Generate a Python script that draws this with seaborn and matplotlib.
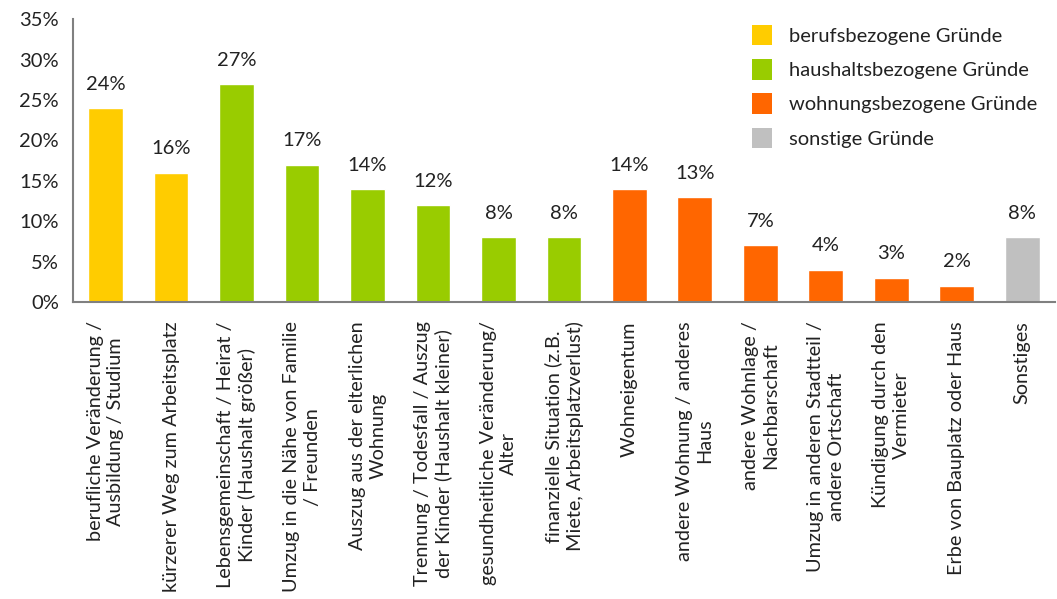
import matplotlib
matplotlib.use("Agg")
import matplotlib.pyplot as plt
import seaborn as sns
import pandas as pd
from matplotlib.patches import Patch
from matplotlib.ticker import FixedLocator

categories = [
    "berufliche Veränderung /\nAusbildung / Studium",
    "kürzerer Weg zum Arbeitsplatz",
    "Lebensgemeinschaft / Heirat /\nKinder (Haushalt größer)",
    "Umzug in die Nähe von Familie\n/ Freunden",
    "Auszug aus der elterlichen\nWohnung",
    "Trennung / Todesfall / Auszug\nder Kinder (Haushalt kleiner)",
    "gesundheitliche Veränderung/\nAlter",
    "finanzielle Situation (z.B.\nMiete, Arbeitsplatzverlust)",
    "Wohneigentum",
    "andere Wohnung / anderes\nHaus",
    "andere Wohnlage /\nNachbarschaft",
    "Umzug in anderen Stadtteil /\nandere Ortschaft",
    "Kündigung durch den\nVermieter",
    "Erbe von Bauplatz oder Haus",
    "Sonstiges",
]
values = [24, 16, 27, 17, 14, 12, 8, 8, 14, 13, 7, 4, 3, 2, 8]
groups = [
    "berufsbezogene Gründe", "berufsbezogene Gründe",
    "haushaltsbezogene Gründe", "haushaltsbezogene Gründe",
    "haushaltsbezogene Gründe", "haushaltsbezogene Gründe",
    "haushaltsbezogene Gründe", "haushaltsbezogene Gründe",
    "wohnungsbezogene Gründe", "wohnungsbezogene Gründe",
    "wohnungsbezogene Gründe", "wohnungsbezogene Gründe",
    "wohnungsbezogene Gründe", "wohnungsbezogene Gründe",
    "sonstige Gründe",
]
group_names = ["berufsbezogene Gründe", "haushaltsbezogene Gründe",
               "wohnungsbezogene Gründe", "sonstige Gründe"]
group_colors = ["#FFCC00", "#99CC00", "#FF6600", "#C0C0C0"]
y_ticks = [0, 5, 10, 15, 20, 25, 30, 35]

sns.set_style("white")
plt.rcParams["font.family"] = ["Lato", "DejaVu Sans"]

df = pd.DataFrame({"kategorie": categories, "anteil": values, "gruppe": groups})
palette = dict(zip(group_names, group_colors))

fig = plt.figure(figsize=(10.57, 5.99), dpi=100)
ax = fig.add_axes([0.069, 0.496, 0.929, 0.472])

sns.barplot(data=df, x="kategorie", y="anteil", hue="gruppe",
            hue_order=group_names, palette=palette, dodge=False,
            width=0.53, saturation=1, legend=False, ax=ax)

ax.set_xlim(-0.5, len(categories) - 0.5)
ax.set_ylim(0, 35)
ax.set_yticks(y_ticks)
ax.set_yticklabels([f"{t}%" for t in y_ticks], fontsize=14.5, color="#222222")
ax.set_xticks(range(len(categories)))
ax.set_xticklabels(categories, rotation=90, ha="center", va="top",
                   multialignment="center", fontsize=14.3, color="#222222",
                   linespacing=1.25)
ax.tick_params(axis="x", which="major", length=0, pad=14)
ax.xaxis.set_minor_locator(FixedLocator([i - 0.5 for i in range(len(categories) + 1)]))
ax.tick_params(axis="x", which="minor", length=6, width=1.5, color="#808080", direction="out")
ax.tick_params(axis="y", length=6, width=1.5, color="#808080", direction="out", pad=4)
ax.set_xlabel("")
ax.set_ylabel("")

for side in ["top", "right"]:
    ax.spines[side].set_visible(False)
for side in ["left", "bottom"]:
    ax.spines[side].set_color("#808080")
    ax.spines[side].set_linewidth(1.5)

for i, v in enumerate(values):
    ax.annotate(f"{v}%", (i, v), xytext=(0, 11), textcoords="offset points",
                ha="center", va="bottom", fontsize=14.5, color="#222222")

handles = [Patch(facecolor=c, edgecolor="none") for c in group_colors]
ax.legend(handles, group_names, loc="upper right", bbox_to_anchor=(1.0, 1.045),
          frameon=False, fontsize=14.5, handlelength=1.0, handleheight=1.2,
          handletextpad=0.8, labelspacing=0.68, labelcolor="#222222")

fig.savefig("out.png", dpi=100)
